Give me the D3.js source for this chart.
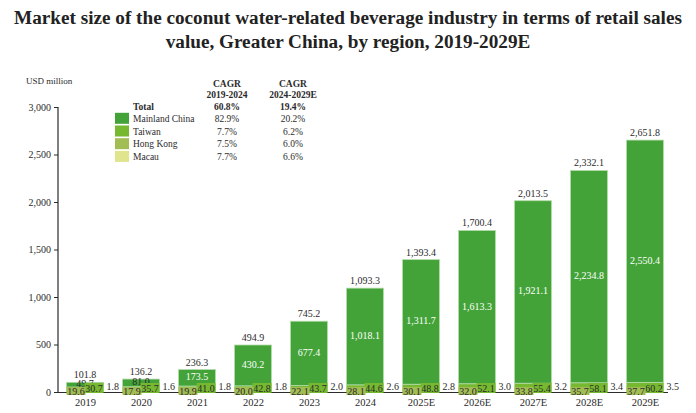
<!DOCTYPE html>
<html><head><meta charset="utf-8">
<script src="https://cdn.jsdelivr.net/npm/d3@7"></script>
<style>
body{margin:0;background:#fff;}
text{font-family:"Liberation Serif","Times New Roman",serif;}
</style></head><body>
<svg id="c" width="696" height="413"></svg>
<script>
const years = ["2019","2020","2021","2022","2023","2024","2025E","2026E","2027E","2028E","2029E"];
const mainland = [49.7,81.0,173.5,430.2,677.4,1018.1,1311.7,1613.3,1921.1,2234.8,2550.4];
const taiwan   = [30.7,35.7,41.0,42.8,43.7,44.6,48.8,52.1,55.4,58.1,60.2];
const hongkong = [19.6,17.9,19.9,20.0,22.1,28.1,30.1,32.0,33.8,35.7,37.7];
const macau    = [1.8,1.6,1.8,1.8,2.0,2.6,2.8,3.0,3.2,3.4,3.5];
const totals   = [101.8,136.2,236.3,494.9,745.2,1093.3,1393.4,1700.4,2013.5,2332.1,2651.8];
const yTicks   = [0,500,1000,1500,2000,2500,3000];
const seriesNames = ["Mainland China","Taiwan","Hong Kong","Macau"];
const cagr1 = ["82.9%","7.7%","7.5%","7.7%"];
const cagr2 = ["20.2%","6.2%","6.0%","6.6%"];
const totalCagr = ["60.8%","19.4%"];
const colors = {"Mainland China":"#43a338","Taiwan":"#76b830","Hong Kong":"#a3bd55","Macau":"#e0e48d"};

const svg = d3.select("#c");
const ink = "#2b2b2b";

// title
svg.append("text").attr("x",348).attr("y",24).attr("text-anchor","middle")
  .attr("font-size",19.2).attr("font-weight","bold").attr("fill","#222")
  .text("Market size of the coconut water-related beverage industry in terms of retail sales");
svg.append("text").attr("x",348).attr("y",48).attr("text-anchor","middle")
  .attr("font-size",19.2).attr("font-weight","bold").attr("fill","#222")
  .text("value, Greater China, by region, 2019-2029E");

const y = d3.scaleLinear().domain([0,3000]).range([392,107]);
const x = d3.scalePoint().domain(years).range([85,645]);
const bw = 37;

const rows = years.map((yr,i)=>({year:yr,"Macau":macau[i],"Hong Kong":hongkong[i],"Taiwan":taiwan[i],"Mainland China":mainland[i],total:totals[i]}));
const stack = d3.stack().keys(["Macau","Hong Kong","Taiwan","Mainland China"])(rows);

// bars
stack.forEach(layer=>{
  svg.append("g").selectAll("rect").data(layer).join("rect")
    .attr("x",d=>x(d.data.year)-bw/2)
    .attr("width",bw)
    .attr("y",d=>y(d[1]))
    .attr("height",d=>Math.max(0,y(d[0])-y(d[1])))
    .attr("fill",colors[layer.key])
    .attr("stroke","#b5dcaa").attr("stroke-width",0.8);
});

// axes
const yAxis = d3.axisLeft(y).tickValues(yTicks).tickSize(4).tickFormat(d3.format(","));
const gy = svg.append("g").attr("transform","translate(58,0)").call(yAxis);
gy.select(".domain").attr("stroke",ink).attr("stroke-width",1.2).attr("d","M0,107V392");
gy.selectAll(".tick line").attr("stroke",ink);
gy.selectAll(".tick text").attr("font-size",10).attr("fill",ink).attr("x",-7);

svg.append("line").attr("x1",58).attr("x2",668).attr("y1",392.5).attr("y2",392.5).attr("stroke",ink).attr("stroke-width",1);

const xAxis = d3.axisBottom(x).tickSize(0).tickPadding(5);
const gx = svg.append("g").attr("transform","translate(0,394)").call(xAxis);
gx.select(".domain").remove();
gx.selectAll(".tick text").attr("font-size",10.5).attr("fill",ink);

svg.append("text").attr("x",26).attr("y",84).attr("font-size",9).attr("fill",ink).text("USD million");

const fmt = d3.format(",.1f");
// total labels
svg.append("g").selectAll("text").data(rows).join("text")
  .attr("x",d=>x(d.year)).attr("y",d=>y(d.total)-4).attr("text-anchor","middle")
  .attr("font-size",10).attr("fill",ink).text(d=>fmt(d.total));

// mainland labels
const mainLayer = stack[3];
svg.append("g").selectAll("text").data(mainLayer).join("text")
  .attr("x",d=>x(d.data.year)).attr("y",d=>(y(d[0])+y(d[1]))/2+2.5).attr("text-anchor","middle")
  .attr("font-size",10).attr("fill",d=>d.data["Mainland China"]>100?"#fff":ink)
  .text(d=>fmt(d.data["Mainland China"]));

// Taiwan & Hong Kong boxed labels
function boxLabel(key, dx, cy, h){
  const g = svg.append("g").selectAll("g").data(rows).join("g")
    .attr("transform",d=>`translate(${x(d.year)+dx},${cy})`);
  g.append("rect").attr("x",-9.5).attr("y",-h/2).attr("width",19).attr("height",h).attr("fill",colors[key]);
  g.append("text").attr("text-anchor","middle").attr("y",3.5).attr("font-size",10).attr("fill",ink).text(d=>fmt(d[key]));
}
boxLabel("Taiwan",bw/2-9.5,388,10);
boxLabel("Hong Kong",-bw/2+9.5,391,8);

// Macau labels
svg.append("g").selectAll("text").data(rows).join("text")
  .attr("x",d=>x(d.year)+bw/2+3).attr("y",389.5).attr("font-size",10).attr("fill",ink)
  .text(d=>fmt(d["Macau"]));

// legend
svg.append("text").attr("x",133).attr("y",110).attr("font-size",9.5).attr("font-weight","bold").attr("fill",ink).text("Total");
[["CAGR","2019-2024",227],["CAGR","2024-2029E",293]].forEach((h,j)=>{
  svg.append("text").attr("x",h[2]).attr("y",87).attr("text-anchor","middle").attr("font-size",9.5).attr("font-weight","bold").attr("fill",ink).text(h[0]);
  svg.append("text").attr("x",h[2]).attr("y",98).attr("text-anchor","middle").attr("font-size",9.5).attr("font-weight","bold").attr("fill",ink).text(h[1]);
  svg.append("text").attr("x",h[2]).attr("y",110).attr("text-anchor","middle").attr("font-size",9.5).attr("font-weight","bold").attr("fill",ink).text(totalCagr[j]);
});
const lg = svg.append("g").selectAll("g").data(seriesNames).join("g")
  .attr("transform",(d,i)=>`translate(0,${118.3+i*12.7})`);
lg.append("rect").attr("x",115).attr("y",-5.5).attr("width",14).attr("height",11).attr("fill",d=>colors[d]);
lg.append("text").attr("x",133).attr("y",3.5).attr("font-size",9.5).attr("fill",ink).text(d=>d);
lg.append("text").attr("x",227).attr("y",3.5).attr("text-anchor","middle").attr("font-size",9.5).attr("fill",ink).text((d,i)=>cagr1[i]);
lg.append("text").attr("x",293).attr("y",3.5).attr("text-anchor","middle").attr("font-size",9.5).attr("fill",ink).text((d,i)=>cagr2[i]);
</script>
</body></html>
